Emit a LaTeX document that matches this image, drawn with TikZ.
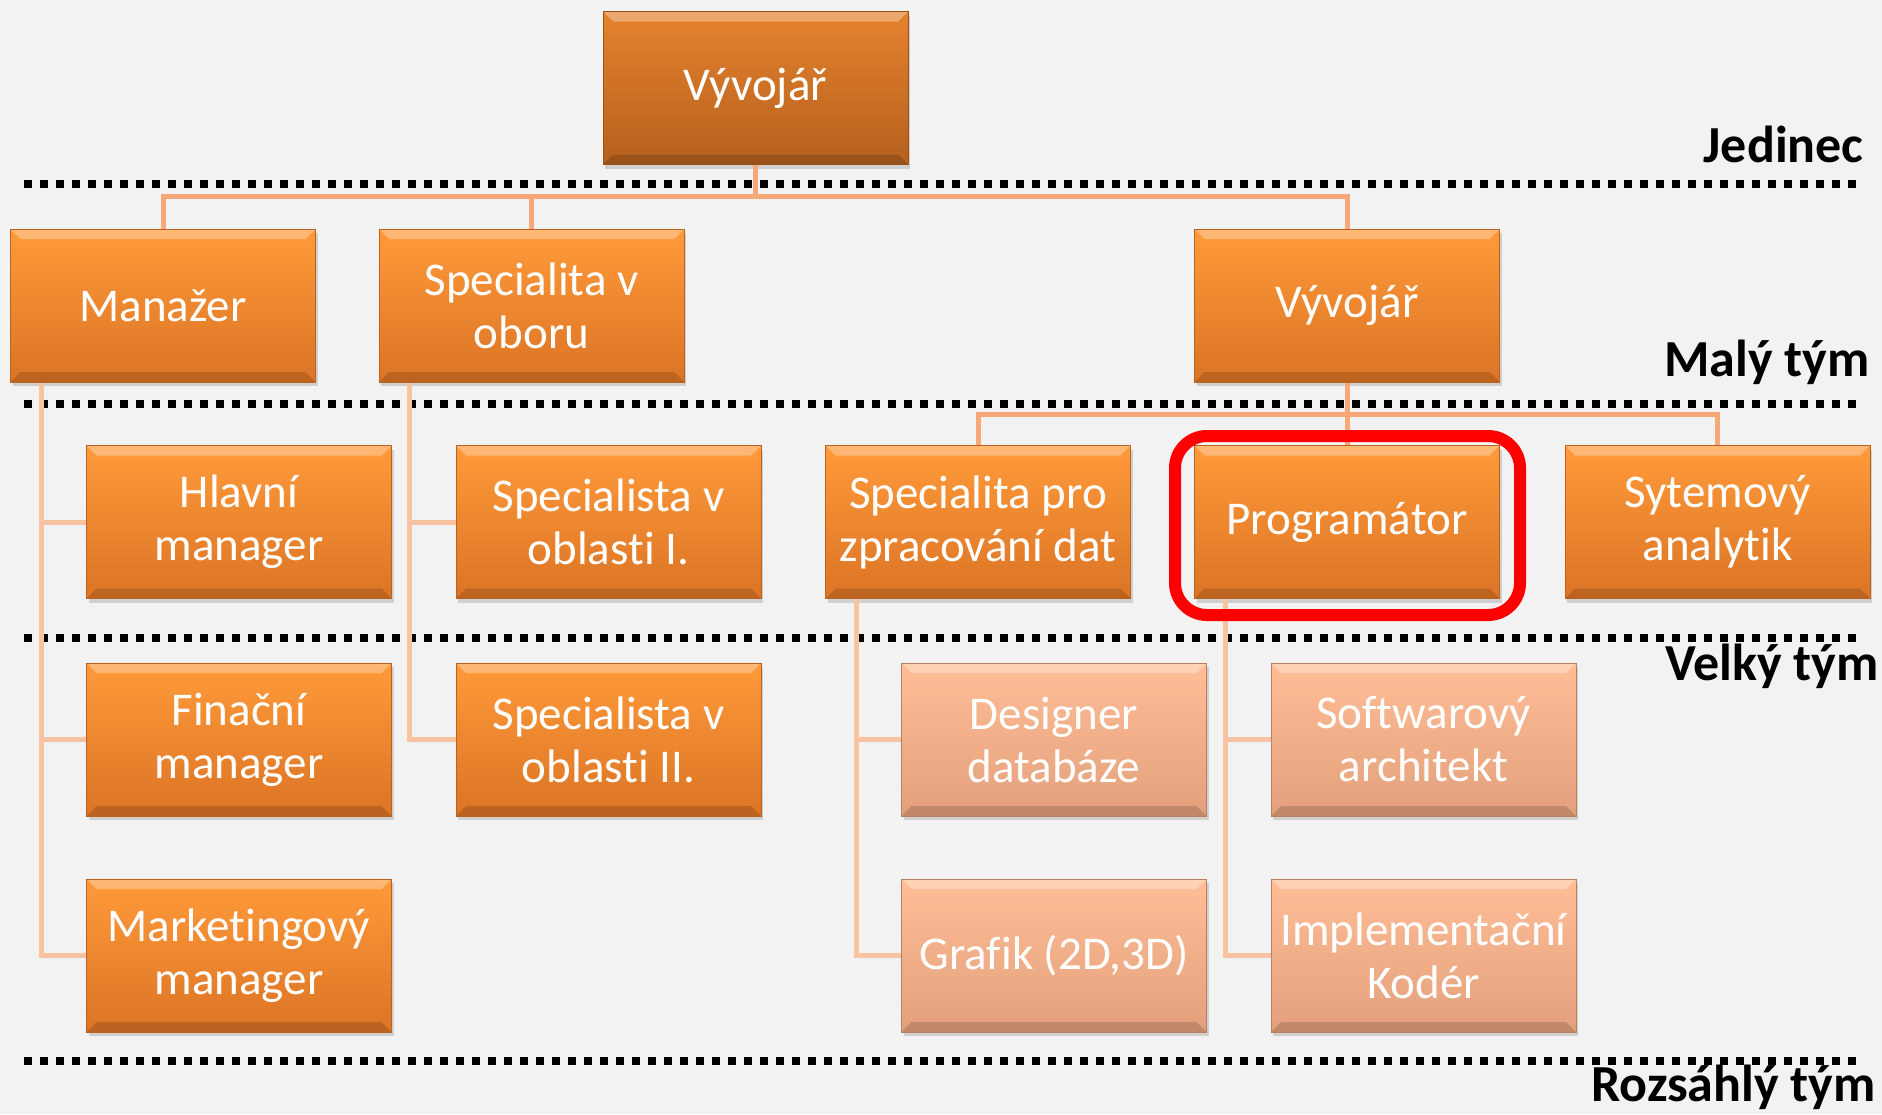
\documentclass[tikz,border=0pt]{standalone}
\usepackage{fontspec}
\setmainfont[Ligatures=NoCommon]{Carlito}
\usetikzlibrary{shadows}

\definecolor{bggray}{HTML}{F2F2F2}
\definecolor{darkA}{HTML}{E5822E}
\definecolor{darkB}{HTML}{B5601D}
\definecolor{orA}{HTML}{FF9A3A}
\definecolor{orB}{HTML}{DB7425}
\definecolor{ltA}{HTML}{FFBE96}
\definecolor{ltB}{HTML}{E2A07C}
\definecolor{connA}{HTML}{F7A878}
\definecolor{connB}{HTML}{F9C3A2}

\tikzset{
  box/.style={rectangle, minimum width=152.5pt, minimum height=76.5pt, inner sep=0pt,
    align=center, text=white, font=\fontsize{23.5}{26.5}\selectfont, line width=0.5pt,
    drop shadow={shadow xshift=1pt, shadow yshift=-2pt, opacity=0.3},
    path picture={
      \fill[white,opacity=0.3] (path picture bounding box.north west) -- (path picture bounding box.north east)
        -- ++(-5pt,-5pt) -- ([shift={(5pt,-5pt)}]path picture bounding box.north west) -- cycle;
      \fill[black,opacity=0.15] (path picture bounding box.south west) -- (path picture bounding box.south east)
        -- ++(-5pt,5pt) -- ([shift={(5pt,5pt)}]path picture bounding box.south west) -- cycle;
    }},
  darkbox/.style={box, top color=darkA, bottom color=darkB, draw=darkB!85!black},
  orangebox/.style={box, top color=orA, bottom color=orB, draw=orB!85!black},
  lightbox/.style={box, top color=ltA, bottom color=ltB, draw=ltB!80!black},
  conn/.style={draw=connA, line width=2.5pt},
  subconn/.style={draw=connB, line width=2.5pt},
  level/.style={line width=4pt, dash pattern=on 4pt off 4pt, black},
  lbl/.style={anchor=east, inner sep=0pt, font=\bfseries\fontsize{26}{30}\selectfont},
  redframe/.style={draw=red, line width=6pt, rounded corners=16pt}
}

\begin{document}
\begin{tikzpicture}[x=0.5pt, y=-0.5pt]
	\fill[bggray] (0,0) rectangle (1882,1114);
	\useasboundingbox (0,0) rectangle (1882,1114);
	
	% levels
	\foreach \y in {184,404,638,1061}
		\draw[level] (24,\y) -- (1858,\y);
	\node[lbl] (jed) at (1864,144) {Jedinec};
	\node[lbl] (maly) at (1870,362) {Malý tým};
	\node[lbl] (velky) at (1879,666) {Velký tým};
	\node[lbl] (rozs) at (1876,1087) {Rozsáhlý tým};
	
	% boxes
	\node[darkbox] (dev) at (755.5,88) {Vývojář};
	\node[orangebox] (man) at (163,305.5) {Manažer};
	\node[orangebox] (obor) at (531.5,305.5) {Specialita v\\oboru};
	\node[orangebox] (dev2) at (1347,305.5) {Vývojář};
	\node[orangebox] (hlav) at (239,522) {Hlavní\\manager};
	\node[orangebox] (spec1) at (608.5,522) {Specialista v\\oblasti I.};
	\node[orangebox] (data) at (978,522) {Specialita pro\\zpracování dat};
	\node[orangebox] (prog) at (1347,522) {Programátor};
	\node[orangebox] (anal) at (1717.5,522) {Sytemový\\analytik};
	\node[orangebox] (fin) at (239,739.5) {Finační\\manager};
	\node[orangebox] (spec2) at (608.5,739.5) {Specialista v\\oblasti II.};
	\node[lightbox] (dbdes) at (1054,739.5) {Designer\\databáze};
	\node[lightbox] (arch) at (1423.5,739.5) {Softwarový\\architekt};
	\node[orangebox] (mkt) at (239,955.5) {Marketingový\\manager};
	\node[lightbox] (graf) at (1054,955.5) {Grafik (2D,3D)};
	\node[lightbox] (impl) at (1423.5,955.5) {Implementační\\Kodér};
	
	% connectors
	\coordinate (bus1) at (755.5,196);
	\coordinate (bus2) at (1347,414);
	\draw[conn] (dev.south) -- (bus1);
	\draw[conn] (man.north) |- (bus1) -| (dev2.north);
	\draw[conn] (obor.north) -- (obor.north |- bus1);
	\draw[conn] (dev2.south) -- (bus2);
	\draw[conn] (data.north) |- (bus2) -| (anal.north);
	\draw[conn] (prog.north) -- (bus2);
	
	\foreach \c in {hlav,fin,mkt}
		\draw[subconn] ([xshift=15.5pt]man.south west) |- (\c.west);
	\foreach \c in {spec1,spec2}
		\draw[subconn] ([xshift=15.5pt]obor.south west) |- (\c.west);
	\foreach \c in {dbdes,graf}
		\draw[subconn] ([xshift=15.5pt]data.south west) |- (\c.west);
	\foreach \c in {arch,impl}
		\draw[subconn] ([xshift=15.5pt]prog.south west) |- (\c.west);
	
	\draw[redframe] ([shift={(-9.5pt,4.5pt)}]prog.north west) rectangle ([shift={(10pt,-8pt)}]prog.south east);
\end{tikzpicture}
\end{document}
